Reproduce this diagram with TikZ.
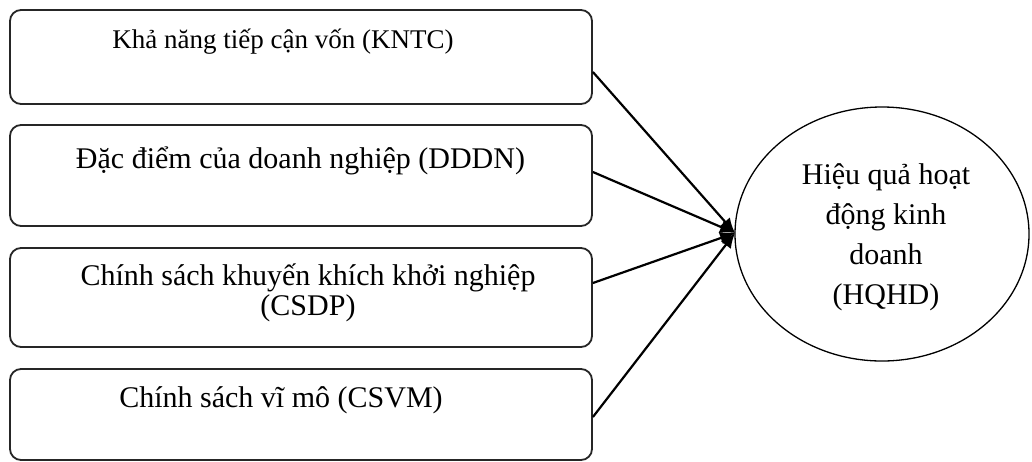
\documentclass[tikz,border=0pt]{standalone}
\usepackage{fontspec}
\setmainfont{Liberation Serif}
\usetikzlibrary{shapes.geometric,arrows.meta}

\begin{document}
\begin{tikzpicture}[x=1pt,y=-1pt,
  factor/.style={draw=black!85,line width=1.8pt,rounded corners=11pt,
    minimum width=582pt,inner sep=0pt},
  label28/.style={font=\fontsize{27}{31}\selectfont,inner sep=0pt,anchor=base},
  label30/.style={font=\fontsize{30}{30}\selectfont,inner sep=0pt,anchor=base,align=center},
  outcome/.style={draw=black,line width=1.3pt,ellipse,minimum width=294pt,
    minimum height=254pt,inner sep=0pt},
  link/.style={line width=2.2pt,-{Latex[length=15pt,width=13pt]}}]
  \useasboundingbox (0,0) rectangle (1032,461);

  % factor boxes
  \node[factor,minimum height=94pt]  (b1) at (301,57)    {};
  \node[factor,minimum height=101pt] (b2) at (301,175.5) {};
  \node[factor,minimum height=99pt]  (b3) at (301,297.5) {};
  \node[factor,minimum height=91pt]  (b4) at (301,414.5) {};

  % box captions (base anchor of a two-line caption sits on its last line)
  \node[label28] (t1) at (283,48) {Khả năng tiếp cận vốn (KNTC)};
  \node[label30] (t2) at (300.5,168) {Đặc điểm của doanh nghiệp (DDDN)};
  \node[label30] (t3) at (308,315) {Chính sách khuyến khích khởi nghiệp\\(CSDP)};
  \node[label30] (t4) at (281,407) {Chính sách vĩ mô (CSVM)};

  % outcome ellipse
  \node[outcome] (hq) at (882,234) {};
  \node[font=\fontsize{30}{40}\selectfont,align=center,inner sep=0pt] (thq) at (886,237)
    {Hiệu quả hoạt\\động kinh\\doanh\\(HQHD)};

  \coordinate (tip) at (735,233);

  % arrows into the outcome
  \draw[link] ([yshift=-15pt]b1.east) -- (tip);
  \draw[link] ([yshift=3.5pt]b2.east) -- (tip);
  \draw[link] ([yshift=14.5pt]b3.east) -- (tip);
  \draw[link] ([yshift=-2.5pt]b4.east) -- (tip);
\end{tikzpicture}
\end{document}
